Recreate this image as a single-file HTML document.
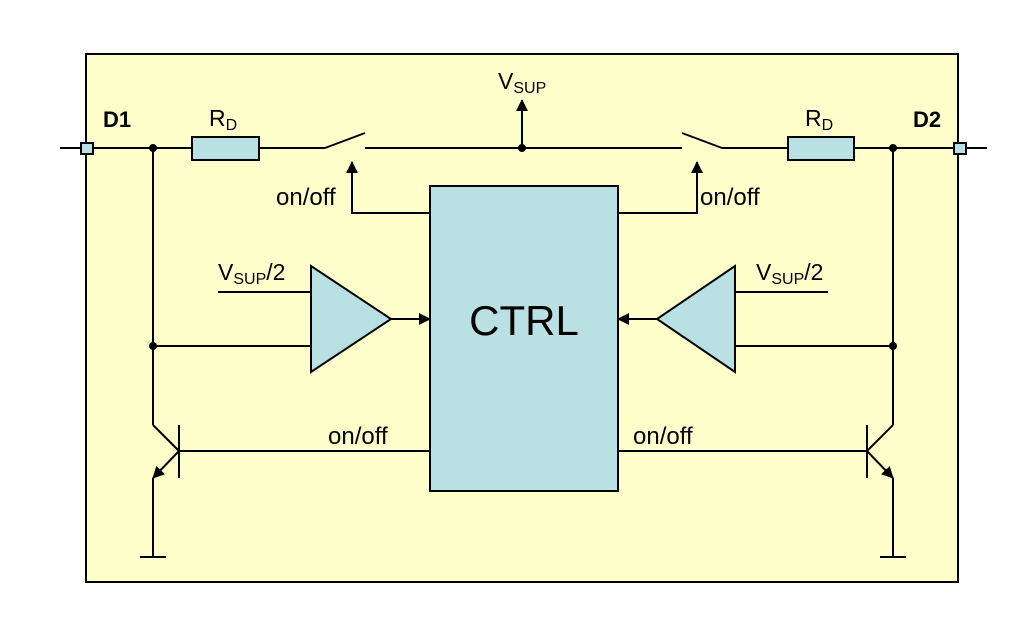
<!DOCTYPE html>
<html><head><style>html,body{margin:0;padding:0;background:#fff;}svg{display:block;}
text{font-family:"Liberation Sans",Arial,sans-serif;fill:#000;}</style></head><body>
<svg width="1032" height="633" viewBox="0 0 1032 633" xmlns="http://www.w3.org/2000/svg">
<defs><marker id="a" markerWidth="12" markerHeight="12" refX="11" refY="6" orient="auto" markerUnits="userSpaceOnUse"><path d="M0,0 L12,6 L0,12z" fill="#000"/></marker></defs>
<rect x="86" y="54" width="872" height="528" fill="#ffffcc" stroke="#000" stroke-width="2"/>
<g stroke="#000" stroke-width="2" fill="none">
<line x1="60" y1="148" x2="325" y2="148"/>
<line x1="325" y1="148" x2="365" y2="133"/>
<line x1="365" y1="148" x2="682" y2="148"/>
<line x1="682" y1="133" x2="722" y2="148"/>
<line x1="722" y1="148" x2="987" y2="148"/>
<line x1="522" y1="148" x2="522" y2="100" marker-end="url(#a)"/>
<polyline points="430,213 352,213 352,162" marker-end="url(#a)"/>
<polyline points="618,213 697,213 697,162" marker-end="url(#a)"/>
<line x1="153" y1="148" x2="153" y2="425"/>
<line x1="893" y1="148" x2="893" y2="425"/>
<line x1="218" y1="292" x2="311" y2="292"/>
<line x1="153" y1="346" x2="311" y2="346"/>
<line x1="391" y1="319" x2="430" y2="319" marker-end="url(#a)"/>
<line x1="735" y1="292" x2="828" y2="292"/>
<line x1="735" y1="346" x2="893" y2="346"/>
<line x1="657" y1="319" x2="618" y2="319" marker-end="url(#a)"/>
<line x1="179" y1="451" x2="430" y2="451"/>
<line x1="179" y1="425" x2="179" y2="478"/>
<line x1="153" y1="425" x2="179" y2="451"/>
<line x1="179" y1="451" x2="153" y2="478" marker-end="url(#a)"/>
<line x1="153" y1="478" x2="153" y2="557"/>
<line x1="140" y1="557" x2="166" y2="557"/>
<line x1="618" y1="451" x2="867" y2="451"/>
<line x1="867" y1="425" x2="867" y2="478"/>
<line x1="893" y1="425" x2="867" y2="451"/>
<line x1="867" y1="451" x2="893" y2="478" marker-end="url(#a)"/>
<line x1="893" y1="478" x2="893" y2="557"/>
<line x1="880" y1="557" x2="906" y2="557"/>
</g>
<g stroke="#000" stroke-width="2" fill="#b9e0e3">
<rect x="81" y="143" width="12" height="11"/>
<rect x="954" y="143" width="12" height="11"/>
<rect x="192" y="137" width="67" height="23"/>
<rect x="788" y="137" width="66" height="23"/>
<rect x="430" y="186" width="188" height="305"/>
<polygon points="311,266 311,372 391,319"/>
<polygon points="735,266 735,372 657,319"/>
</g>
<g fill="#000">
<circle cx="153" cy="148" r="4"/><circle cx="522" cy="148" r="4"/><circle cx="893" cy="148" r="4"/>
<circle cx="153" cy="346" r="4"/><circle cx="893" cy="346" r="4"/>
</g>
<text x="103" y="127" font-size="22" font-weight="bold">D1</text>
<text x="913" y="127" font-size="22" font-weight="bold">D2</text>
<text x="209" y="126" font-size="23">R<tspan font-size="16" dy="4">D</tspan></text>
<text x="805" y="126" font-size="23">R<tspan font-size="16" dy="4">D</tspan></text>
<text x="498" y="89" font-size="23">V<tspan font-size="16" dy="4">SUP</tspan></text>
<text x="218" y="280" font-size="23">V<tspan font-size="16" dy="4">SUP</tspan><tspan dy="-4">/2</tspan></text>
<text x="756" y="280" font-size="23">V<tspan font-size="16" dy="4">SUP</tspan><tspan dy="-4">/2</tspan></text>
<text x="276" y="205" font-size="24">on/off</text>
<text x="700" y="205" font-size="24">on/off</text>
<text x="328" y="444" font-size="24">on/off</text>
<text x="633" y="444" font-size="24">on/off</text>
<text x="524" y="335" font-size="42" text-anchor="middle">CTRL</text>
</svg>
</body></html>
